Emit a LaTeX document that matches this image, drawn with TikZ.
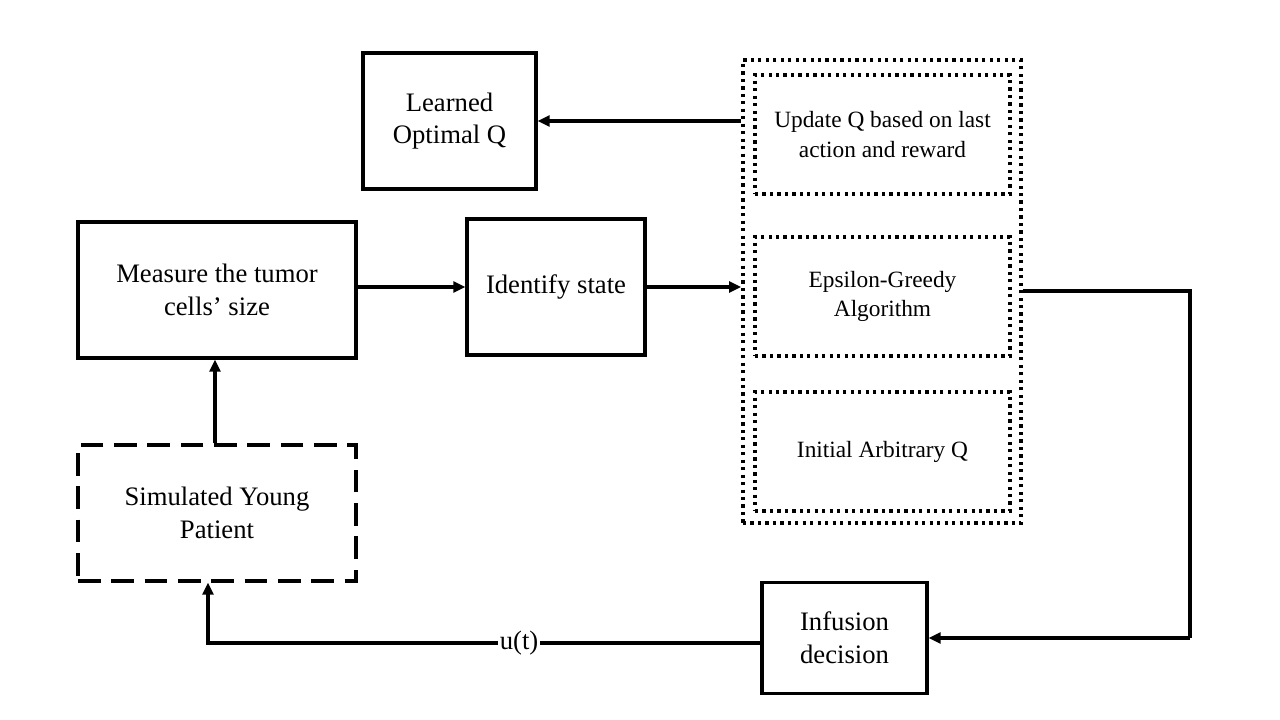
\documentclass[tikz,border=0pt]{standalone}
\usepackage{fontspec}
\setmainfont{Liberation Serif}
\usetikzlibrary{arrows.meta}
\begin{document}
\begin{tikzpicture}[x=0.75pt,y=-0.75pt,
  solidbox/.style={draw,line width=2.3pt,inner sep=0pt,align=center,font=\fontsize{20}{24.5}\selectfont},
  dotbox/.style={draw,line width=2.8pt,dash pattern=on 2.4pt off 3.2pt,inner sep=0pt,align=center,font=\fontsize{17.5}{22}\selectfont},
  dashbox/.style={draw,line width=2.3pt,dash pattern=on 17pt off 8pt,inner sep=0pt,align=center,font=\fontsize{20}{24.5}\selectfont},
  conn/.style={line width=2.3pt,-{Triangle[length=9pt,width=8pt]}},
  plain/.style={line width=2.3pt}]
\useasboundingbox (0,0) rectangle (1280,720);
\node[solidbox,minimum width=173*0.75pt,minimum height=136*0.75pt] (learned) at (449.5,121) {Learned\\Optimal Q};
\node[solidbox,minimum width=278*0.75pt,minimum height=136*0.75pt] (measure) at (217,290) {Measure the tumor\\cells’ size};
\node[solidbox,minimum width=178*0.75pt,minimum height=136*0.75pt] (identify) at (556,287) {Identify state};
\node[draw,line width=2.8pt,dash pattern=on 2.4pt off 3.2pt,minimum width=278*0.75pt,minimum height=463*0.75pt,inner sep=0pt] (outer) at (882,291.5) {};
\node[dotbox,minimum width=255*0.75pt,minimum height=119*0.75pt] (update) at (882.5,134.5) {Update Q based on last\\action and reward};
\node[dotbox,minimum width=255*0.75pt,minimum height=119*0.75pt] (eps) at (882.5,296.5) {Epsilon-Greedy\\Algorithm};
\node[dotbox,minimum width=255*0.75pt,minimum height=119*0.75pt] (init) at (882.5,451.5) {Initial Arbitrary Q};
\node[dashbox,minimum width=278*0.75pt,minimum height=136*0.75pt] (patient) at (217,513) {Simulated Young\\Patient};
\node[solidbox,minimum width=165*0.75pt,minimum height=111*0.75pt] (infusion) at (844.5,638) {Infusion\\decision};
\coordinate (u1) at (743,121);
\coordinate (r1) at (1190,291);
\coordinate (r2) at (1190,638);
\coordinate (l1) at (208,643);
\draw[conn] (outer.west |- u1) -- (learned.east |- u1);
\draw[conn] (measure.east |- identify.east) -- (identify.west);
\draw[conn] (identify.east) -- (outer.west |- identify.east);
\draw[plain] (outer.east |- r1) -- (r1) -- (r2);
\draw[conn] (r2) -- (infusion.east);
\draw[conn] (infusion.west |- l1) -- node[pos=0.437,fill=white,inner sep=1pt,font=\fontsize{20}{22}\selectfont]{u(t)} (l1) -- (l1 |- patient.south);
\draw[conn] ([xshift=-1.5pt]patient.north) -- ([xshift=-1.5pt]measure.south);
\end{tikzpicture}
\end{document}
